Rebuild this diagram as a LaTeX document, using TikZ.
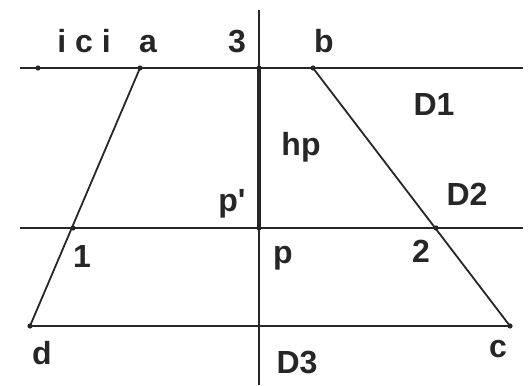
\documentclass[tikz,border=0pt]{standalone}
\usepackage{fontspec}
\setmainfont{Liberation Sans}
\usetikzlibrary{positioning}

\begin{document}
\begin{tikzpicture}[x=1pt, y=-1pt, line width=1.8pt, draw=black!85,
    lbl/.style={font=\bfseries\fontsize{32}{38}\selectfont, inner sep=0pt, anchor=base, text=black!85},
    ptdot/.style={fill=black!85}]
    \useasboundingbox (0,0) rectangle (529,385);

    % Points
    \coordinate (ici) at (38,68);
    \coordinate (pa) at (140,68);
    \coordinate (p3) at (259,68);
    \coordinate (pb) at (313,68);
    \coordinate (p1) at (73,228);
    \coordinate (pp) at (259,228);
    \coordinate (p2) at (436,228);
    \coordinate (pd) at (30,326);
    \coordinate (pc) at (510,326);

    % Line ends
    \coordinate (D1w) at (20,68);
    \coordinate (D1e) at (523,68);
    \coordinate (D2w) at (20,228);
    \coordinate (D2e) at (523,228);
    \coordinate (vtop) at (259,10);
    \coordinate (vbot) at (259,385);

    % Lines
    \draw (D1w) -- (D1e);
    \draw (D2w) -- (D2e);
    \draw (pd) -- (pc);
    \draw (vtop) -- (vbot);
    \draw[line width=3.8pt] (p3) -- (pp);
    \draw (pa) -- (pd);
    \draw (pb) -- (pc);

    % Dots
    \foreach \n in {ici, pa, p3, pb, p1, pp, p2, pd, pc}
        \fill[ptdot] (\n) circle (2.6pt);

    % Labels
    \node[lbl] (lici) at (84,53) {i c i};
    \node[lbl] (la) at (148,53) {a};
    \node[lbl] (l3) at (237,53) {3};
    \node[lbl] (lb) at (324,53) {b};
    \node[lbl] (lD1) at (434,115) {D1};
    \node[lbl] (lhp) at (301,155) {hp};
    \node[lbl] (lpp) at (232,211) {p\textquotesingle};
    \node[lbl] (lD2) at (467,205) {D2};
    \node[lbl] (l1) at (82,267) {1};
    \node[lbl] (lp) at (283,263) {p};
    \node[lbl] (l2) at (421,262) {2};
    \node[lbl] (ld) at (42,364) {d};
    \node[lbl] (lc) at (498,357) {c};
    \node[lbl] (lD3) at (297,373) {D3};
\end{tikzpicture}
\end{document}
